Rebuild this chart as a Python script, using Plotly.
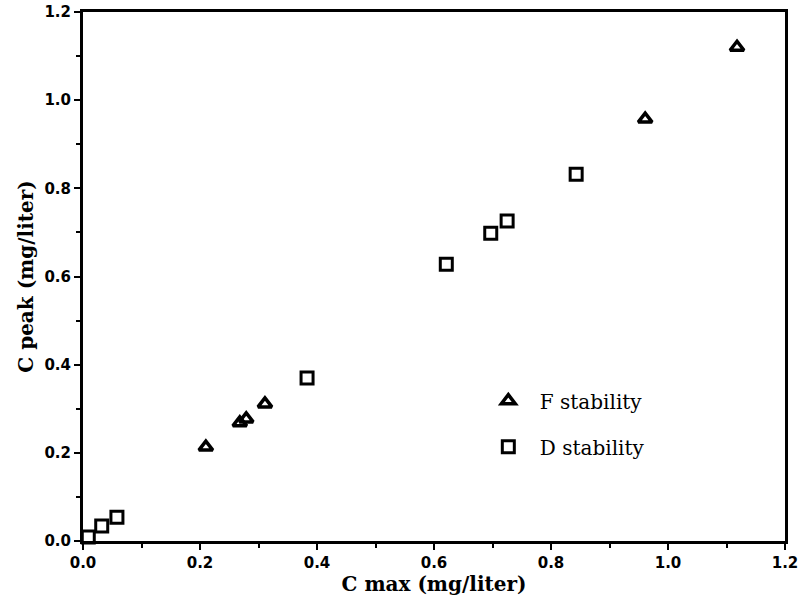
import plotly.graph_objects as go

f_cmax = [0.210, 0.268, 0.279, 0.311, 0.961, 1.118]
f_cpeak = [0.213, 0.268, 0.277, 0.311, 0.957, 1.120]

d_cmax = [0.009, 0.032, 0.058, 0.383, 0.621, 0.697, 0.725, 0.843]
d_cpeak = [0.009, 0.034, 0.054, 0.370, 0.628, 0.698, 0.726, 0.832]

tick_vals = [0.0, 0.2, 0.4, 0.6, 0.8, 1.0, 1.2]
tick_text = ["0.0", "0.2", "0.4", "0.6", "0.8", "1.0", "1.2"]

fig = go.Figure()
fig.add_trace(go.Scatter(
    x=f_cmax, y=f_cpeak, mode="markers", name="F stability", legendgroup="f",
    marker=dict(symbol="triangle-up-open", size=12, color="#000000", line=dict(width=3.5, color="#000000")),
    cliponaxis=False,
))
fig.add_trace(go.Scatter(
    x=d_cmax, y=d_cpeak, mode="markers", name="D stability", legendgroup="d",
    marker=dict(symbol="square-open", size=12, color="#000000", line=dict(width=3, color="#000000")),
    cliponaxis=False,
))

axis_common = dict(
    range=[0, 1.2], tickvals=tick_vals, ticktext=tick_text, automargin=False,
    showgrid=False, zeroline=False, showline=True, linewidth=3, linecolor="#000000",
    mirror=True, ticks="outside", ticklen=6, tickwidth=2, tickcolor="#000000",
    minor=dict(dtick=0.1, ticks="outside", ticklen=4, tickwidth=2, tickcolor="#000000"),
    tickfont=dict(family="DejaVu Sans", size=15, color="#000000", weight="bold"),
)

fig.update_layout(
    width=802, height=606,
    margin=dict(l=83, r=17, t=12, b=65, autoexpand=False),
    paper_bgcolor="white", plot_bgcolor="white",
    font=dict(color="#000000"),
    xaxis=dict(**axis_common, title=dict(text="C max (mg/liter)", standoff=5,
               font=dict(family="DejaVu Serif", size=20, color="#000000", weight="bold"))),
    yaxis=dict(**axis_common, title=dict(text="C peak (mg/liter)", standoff=6,
               font=dict(family="DejaVu Serif", size=20, color="#000000", weight="bold"))),
    legend=dict(x=0.561, y=0.302, xanchor="left", yanchor="top", tracegroupgap=17,
                itemwidth=53, bgcolor="rgba(0,0,0,0)",
                font=dict(family="DejaVu Serif", size=20, color="#000000")),
    showlegend=True,
)

fig.write_html("out.html", post_script="document.body.style.margin='0';",
               config={"displayModeBar": False})
